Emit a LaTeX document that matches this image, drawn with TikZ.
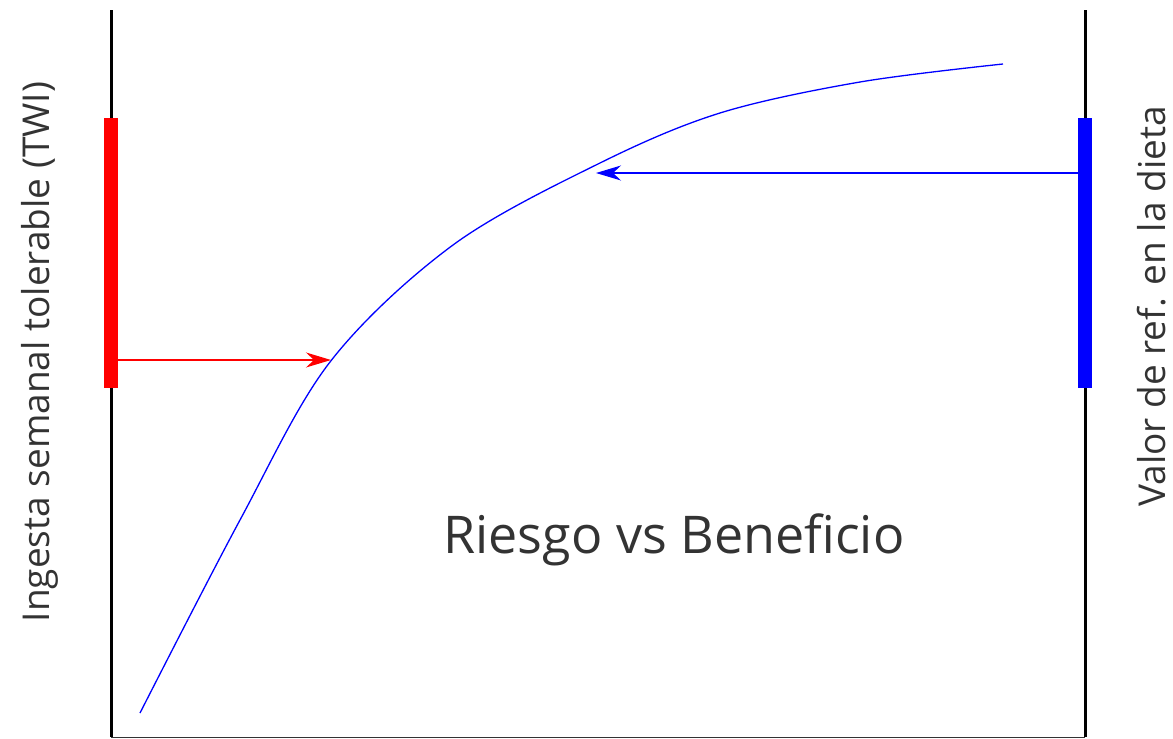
\documentclass[tikz,border=0pt]{standalone}
\usepackage{fontspec}
\setmainfont{Open Sans}
\usetikzlibrary{arrows.meta}
\begin{document}
\begin{tikzpicture}[x=1pt,y=-1pt,
  axis/.style={line width=3pt,black},
  bar/.style={line width=14pt},
  lab/.style={font=\fontsize{37}{44}\selectfont,text=black!80,inner sep=0pt},
  arr/.style={line width=1.2pt,-{Stealth[length=25pt,width=15pt,inset=8pt]}}]
\useasboundingbox (0,0) rectangle (1173,739);
\begin{scope}
\clip (0,0) rectangle (1173,739);
\coordinate (lt) at (111,10);
\coordinate (lb) at (111,737);
\coordinate (rt) at (1085,10);
\coordinate (rb) at (1085,737);
\draw[axis] (lt) -- (lb);
\draw[axis] (rt) -- (rb);
\draw[line width=1pt,black!80] (lb) -- (rb);
\coordinate (rtop) at (111,118);
\coordinate (rbot) at (111,388);
\coordinate (btop) at (1085,118);
\coordinate (bbot) at (1085,388);
\draw[bar,red] (rtop) -- (rbot);
\draw[bar,blue] (btop) -- (bbot);
\draw[blue,line width=1.3pt] plot[smooth,tension=0.55] coordinates
  {(140,713) (240,520) (330,362) (453,245) (600,163) (720,113) (860,82) (1003,64)};
\coordinate (ra0) at (118,360);
\coordinate (ra1) at (331,360);
\coordinate (ba0) at (1079,173);
\coordinate (ba1) at (596,173);
\draw[arr,red] (ra0) -- (ra1);
\draw[arr,blue] (ba0) -- (ba1);
\node[lab,font=\fontsize{52}{60}\selectfont] (title) at (674,540) {Riesgo vs Beneficio};
\node[lab,rotate=90] (left) at (40,352) {Ingesta semanal tolerable (TWI)};
\node[lab,rotate=90,anchor=south west] (right) at (1166,507) {Valor de ref. en la dieta};
\end{scope}
\end{tikzpicture}
\end{document}
